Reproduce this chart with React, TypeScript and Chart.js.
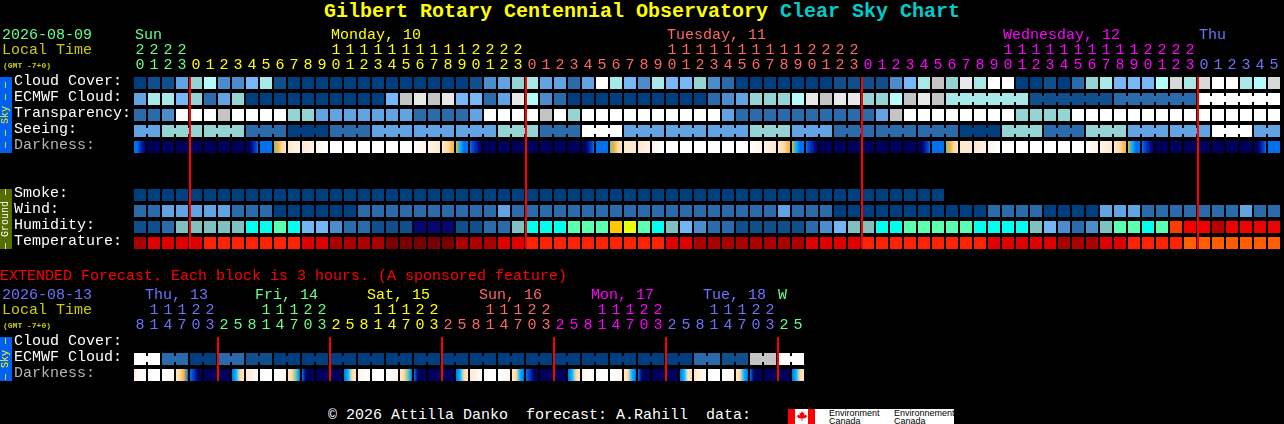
import React, { useEffect, useRef } from "react";
import { Chart, registerables } from "chart.js";

Chart.register(...registerables);

const MONO = "'Liberation Mono', 'DejaVu Sans Mono', monospace";

// Level palette: 0 = clear / best, 12 = overcast / worst
const skyColors = ["#003f7f", "#114e8c", "#2c6bab", "#4c8ccc", "#62a3e4", "#78b7f7", "#94d4d4", "#a8e8e8", "#b4fbfb", "#c4c4c4", "#d8d8d8", "#e8e8e8", "#ffffff"];
const humidityColors = ["#06066e", "#114e8c", "#2c6bab", "#4c8ccc", "#72b4f4", "#80c0c0", "#00ffee", "#5cffb0", "#e8ff10", "#ffc800", "#ff3c00", "#f00000", "#b80000"];
const temperatureColors = ["#7a0000", "#aa0000", "#e00000", "#ff2200", "#ff5e00"];
const darknessColors: Record<string, string> = {
  a: "#00005c", b: "#001090", c: "#0038c0", d: "#0070f0", e: "#00b8ff", f: "#60d0a0",
  g: "#f4b038", h: "#ffd8a0", i: "#ffe8cc", j: "#fff4e8", k: "#ffffff",
};

const mainHours = [20, 21, 22, 23, 0, 1, 2, 3, 4, 5, 6, 7, 8, 9, 10, 11, 12, 13, 14, 15, 16, 17, 18, 19, 20, 21, 22, 23, 0, 1, 2, 3, 4, 5, 6, 7, 8, 9, 10, 11, 12, 13, 14, 15, 16, 17, 18, 19, 20, 21, 22, 23, 0, 1, 2, 3, 4, 5, 6, 7, 8, 9, 10, 11, 12, 13, 14, 15, 16, 17, 18, 19, 20, 21, 22, 23, 0, 1, 2, 3, 4, 5];
const mainDayStarts = [0, 4, 28, 52, 76];
const mainDayColors = ["#66ff88", "#ffff00", "#ff6666", "#ff00ff", "#7070ff"];

const cloudCover = [0, 1, 1, 4, 6, 8, 3, 3, 5, 7, 1, 0, 0, 0, 0, 0, 0, 0, 0, 0, 0, 0, 0, 0, 1, 3, 4, 6, 7, 4, 4, 2, 4, 12, 7, 5, 3, 7, 5, 5, 6, 3, 2, 0, 0, 0, 0, 0, 0, 0, 1, 1, 1, 1, 3, 5, 7, 9, 6, 11, 7, 12, 12, 0, 0, 1, 0, 2, 6, 7, 5, 5, 5, 8, 10, 7, 10, 12, 12, 7, 8, 10];
const ecmwfCloud = [4, 7, 7, 5, 6, 2, 4, 6, 0, 0, 0, 0, 0, 0, 0, 0, 0, 0, 5, 9, 11, 9, 11, 5, 5, 2, 4, 11, 8, 3, 2, 0, 0, 0, 0, 0, 0, 0, 0, 0, 0, 2, 3, 4, 6, 6, 6, 8, 11, 9, 11, 11, 6, 6, 8, 9, 11, 9, 7, 7, 7, 7, 7, 7, 1, 1, 1, 1, 1, 1, 2, 2, 2, 2, 2, 2, 12, 12, 12, 12, 12, 12];
const ecmwfRuns = [1, 1, 1, 1, 1, 1, 1, 1, 1, 1, 1, 1, 1, 1, 1, 1, 1, 1, 1, 1, 1, 1, 1, 1, 1, 1, 1, 1, 1, 1, 1, 1, 1, 1, 1, 1, 1, 1, 1, 1, 1, 1, 1, 1, 1, 1, 1, 1, 1, 1, 1, 1, 1, 1, 1, 1, 1, 1, 6, 6, 6, 6];
const transparency = [2, 2, 3, 12, 12, 12, 9, 12, 12, 12, 12, 6, 6, 4, 4, 4, 4, 4, 4, 4, 2, 2, 2, 2, 4, 12, 12, 12, 12, 9, 12, 6, 12, 12, 12, 12, 12, 12, 12, 12, 12, 12, 4, 2, 2, 2, 2, 2, 2, 2, 2, 2, 2, 4, 9, 12, 12, 12, 12, 12, 12, 12, 12, 6, 6, 6, 6, 12, 12, 12, 12, 12, 12, 12, 12, 12, 12, 12, 12, 12, 12, 12];
const seeing = [4, 4, 6, 6, 6, 6, 6, 6, 2, 2, 2, 0, 0, 0, 2, 2, 2, 4, 4, 4, 4, 4, 4, 4, 4, 4, 6, 6, 6, 2, 2, 2, 12, 12, 12, 4, 4, 4, 4, 4, 4, 4, 4, 4, 6, 6, 6, 4, 4, 4, 2, 2, 2, 2, 2, 2, 2, 2, 2, 0, 0, 0, 6, 6, 6, 2, 2, 2, 6, 6, 6, 4, 4, 4, 4, 4, 4, 12, 12, 12, 4, 4];
const seeingRuns = [2, 3, 3, 3, 3, 3, 3, 3, 3, 3, 3, 3, 3, 3, 3, 3, 3, 3, 3, 3, 3, 3, 3, 3, 3, 3, 3, 2];
const darkness = [
  "ddcba", "a", "a", "a", "a", "a", "a", "a", "aabcd", "d", "fghi", "ij", "ij", "jk", "k", "k", "k", "k", "k", "k", "kj", "ji", "ihg", "gedd",
  "dcba", "a", "a", "a", "a", "a", "a", "a", "aabcd", "d", "fghi", "ii", "ij", "jk", "k", "k", "k", "k", "k", "k", "kj", "ji", "ihg", "gedd",
  "dcba", "a", "a", "a", "a", "a", "a", "a", "aabcd", "d", "fghi", "ii", "ij", "jk", "k", "k", "k", "k", "k", "k", "kj", "ji", "ihg", "gedd",
  "dcba", "a", "a", "a", "a", "a", "a", "a", "aabcd", "d",
];
const smoke = [0, 0, 0, 0, 0, 0, 0, 0, 0, 0, 0, 0, 0, 0, 0, 0, 0, 0, 0, 0, 0, 0, 0, 0, 0, 0, 0, 0, 0, 0, 0, 0, 0, 0, 0, 0, 0, 0, 0, 0, 0, 0, 0, 0, 0, 0, 0, 0, 0, 0, 0, 0, 0, 0, 0, 0, 0, 0];
const wind = [2, 2, 4, 4, 4, 4, 4, 2, 2, 2, 0, 0, 0, 0, 0, 0, 2, 2, 2, 2, 2, 2, 2, 2, 2, 2, 4, 2, 2, 2, 2, 2, 2, 2, 2, 2, 2, 2, 2, 2, 2, 2, 2, 2, 2, 2, 4, 2, 2, 2, 0, 0, 0, 0, 0, 0, 0, 0, 0, 0, 0, 2, 2, 2, 2, 0, 0, 0, 0, 4, 4, 4, 2, 2, 2, 2, 2, 2, 2, 4, 2, 2];
const humidity = [1, 1, 2, 5, 5, 5, 5, 5, 6, 6, 7, 6, 4, 4, 3, 2, 2, 1, 1, 1, 0, 0, 0, 1, 1, 2, 2, 5, 6, 6, 6, 7, 7, 7, 9, 8, 7, 6, 5, 4, 3, 2, 2, 1, 1, 1, 1, 1, 2, 3, 4, 5, 5, 6, 6, 7, 7, 7, 7, 7, 6, 6, 6, 6, 5, 4, 3, 2, 3, 5, 7, 7, 6, 7, 10, 11, 11, 12, 11, 11, 11, 11];
const temperature = [1, 2, 2, 2, 2, 3, 3, 3, 3, 3, 3, 3, 2, 2, 1, 1, 1, 1, 0, 0, 0, 0, 0, 1, 1, 1, 2, 2, 3, 3, 3, 3, 3, 3, 3, 3, 3, 3, 2, 2, 1, 1, 1, 1, 1, 1, 1, 1, 2, 2, 2, 2, 3, 3, 3, 3, 3, 3, 3, 3, 3, 2, 2, 2, 2, 2, 1, 1, 1, 2, 2, 3, 3, 3, 3, 4, 4, 4, 4, 4, 4, 4];

const mainRowNames = ["Cloud Cover:", "ECMWF Cloud:", "Transparency:", "Seeing:", "Darkness:", "Smoke:", "Wind:", "Humidity:", "Temperature:"];
const mainRowPositions = [0, 1, 2, 3, 4, 7, 8, 9, 10];
const mainMidnights = [4, 28, 52, 76];

const extHours = [8, 11, 14, 17, 20, 23, 2, 5, 8, 11, 14, 17, 20, 23, 2, 5, 8, 11, 14, 17, 20, 23, 2, 5, 8, 11, 14, 17, 20, 23, 2, 5, 8, 11, 14, 17, 20, 23, 2, 5, 8, 11, 14, 17, 20, 23, 2, 5];
const extDayStarts = [0, 6, 14, 22, 30, 38, 46];
const extDayColors = ["#7070ff", "#66ff88", "#ffff00", "#ff6666", "#ff00ff", "#7070ff", "#66ff88"];
const extEcmwf = [12, 12, 2, 2, 0, 0, 2, 2, 1, 1, 0, 0, 0, 0, 0, 0, 0, 0, 0, 0, 0, 0, 0, 0, 0, 0, 0, 0, 0, 0, 0, 0, 0, 0, 0, 0, 0, 0, 0, 0, 2, 2, 1, 1, 9, 9, 12, 12];
const extEcmwfRuns = [2, 2, 2, 2, 2, 2, 2, 2, 2, 2, 2, 2, 2, 2, 2, 2, 2, 2, 2, 2, 2, 2, 2, 2];
const extDarkness = [
  "jk", "k", "kj", "ihgd", "dcaa", "a", "a", "dehi",
  "ik", "k", "kj", "ihfd", "daaa", "a", "a", "dehi",
  "jk", "k", "kj", "ihfd", "daaa", "a", "a", "dehi",
  "ik", "k", "kj", "ihed", "dcaa", "a", "a", "dehi",
  "jk", "k", "kj", "ihed", "daaa", "a", "a", "deih",
  "ik", "k", "kj", "ihed", "daaa", "a", "a", "dehi",
];
const extRowNames = ["Cloud Cover:", "ECMWF Cloud:", "Darkness:"];
const extRowPositions = [0, 1, 2];
const extMidnights = [6, 14, 22, 30, 38, 46];

const CELL_PX = 14;
const HALF_ROW = 0.375;
const LABEL_SHIFT = -0.1;

function dayColorAt(starts: number[], colors: string[], col: number) {
  let c = colors[0];
  starts.forEach((s, i) => {
    if (col >= s) c = colors[i];
  });
  return c;
}

function base() {
  return { stack: "all", inflateAmount: 0, borderWidth: 0, borderSkipped: false };
}

function cellDataset(values: number[], row: number, palette: string[]) {
  return {
    ...base(),
    barThickness: 12,
    data: values.map((_, i) => ({ x: i, y: [row - HALF_ROW, row + HALF_ROW] })),
    backgroundColor: values.map((v) => palette[v]),
  };
}

function runLinks(values: number[], runs: number[], row: number, palette: string[]) {
  const data: any[] = [];
  const colors: string[] = [];
  let start = 0;
  runs.forEach((len) => {
    for (let i = start; i < start + len - 1; i++) {
      data.push({ x: i + 0.5, y: [row - 0.1875, row + 0.1875] });
      colors.push(palette[values[i]]);
    }
    start += len;
  });
  return { ...base(), barThickness: 2, data, backgroundColor: colors };
}

function darknessDataset(values: string[], row: number) {
  return {
    ...base(),
    barThickness: 12,
    data: values.map((_, i) => ({ x: i, y: [row - HALF_ROW, row + HALF_ROW] })),
    backgroundColor: (c: any) => {
      const key = values[c.dataIndex];
      if (key === undefined) return darknessColors.a;
      if (key.length === 1) return darknessColors[key];
      const px = c.chart.scales.x.getPixelForValue(c.dataIndex);
      if (!Number.isFinite(px)) return darknessColors[key[0]];
      const g = c.chart.ctx.createLinearGradient(px - 6, 0, px + 6, 0);
      key.split("").forEach((k, i) => g.addColorStop(i / (key.length - 1), darknessColors[k]));
      return g;
    },
  };
}

function redLines(midnights: number[], top: number, bottom: number) {
  return {
    ...base(),
    barThickness: 2,
    data: midnights.map((m) => ({ x: m - 6 / CELL_PX, y: [top, bottom] })),
    backgroundColor: "#ff0000",
  };
}

function makeChart(
  canvas: HTMLCanvasElement,
  datasets: any[],
  hours: number[],
  starts: number[],
  colors: string[],
  rowNames: string[],
  rowPositions: number[],
  yMin: number,
  yMax: number,
  headerHeight: number,
) {
  return new Chart(canvas, {
    type: "bar",
    data: { datasets },
    options: {
      responsive: false,
      animation: false,
      events: [],
      devicePixelRatio: 1,
      layout: { padding: { left: 14, right: 0, top: 0, bottom: 0 } },
      plugins: { legend: { display: false }, tooltip: { enabled: false }, title: { display: false } },
      scales: {
        x: {
          type: "linear",
          position: "top",
          offset: false,
          min: -6 / CELL_PX,
          max: (1284 - 140) / CELL_PX,
          grid: { display: false, drawTicks: false },
          border: { display: false },
          afterBuildTicks: (s: any) => {
            s.ticks = hours.map((_, i) => ({ value: i }));
          },
          afterFit: (s: any) => {
            s.height = headerHeight;
            s.paddingLeft = 0;
            s.paddingRight = 0;
          },
          ticks: {
            autoSkip: false,
            maxRotation: 0,
            minRotation: 0,
            padding: 4,
            font: { family: MONO, size: 15, lineHeight: 1 },
            color: (c: any) => dayColorAt(starts, colors, c.index),
            callback: (_v: any, i: number) => {
              const h = hours[i];
              return h >= 10 ? [String(Math.floor(h / 10)), String(h % 10)] : [" ", String(h)];
            },
          },
        },
        y: {
          type: "linear",
          reverse: true,
          stacked: false,
          offset: false,
          min: yMin,
          max: yMax,
          position: "left",
          grid: { display: false, drawTicks: false },
          border: { display: false },
          afterBuildTicks: (s: any) => {
            s.ticks = rowPositions.map((p) => ({ value: p + LABEL_SHIFT }));
          },
          afterFit: (s: any) => {
            s.width = 120;
            s.paddingTop = 0;
            s.paddingBottom = 0;
          },
          ticks: {
            autoSkip: false,
            crossAlign: "far",
            padding: 0,
            font: { family: MONO, size: 15, lineHeight: 1 },
            color: (c: any) => (rowNames[c.index] === "Darkness:" ? "#b4b4b4" : "#ffffff"),
            callback: (_v: any, i: number) => rowNames[i],
          },
        },
      },
    } as any,
  } as any);
}

const textBase: React.CSSProperties = {
  position: "absolute",
  fontFamily: MONO,
  fontSize: 15,
  lineHeight: "15px",
  whiteSpace: "pre",
  margin: 0,
};

function Label(props: { x: number; y: number; color: string; text: string; size?: number; bold?: boolean }) {
  return (
    <div
      style={{
        ...textBase,
        left: props.x,
        top: props.y,
        color: props.color,
        fontSize: props.size ?? 15,
        fontWeight: props.bold ? 700 : 400,
      }}
    >
      {props.text}
    </div>
  );
}

function SideBar(props: { top: number; height: number; bg: string; color: string; text: string }) {
  return (
    <div
      style={{
        position: "absolute",
        left: 0,
        top: props.top,
        width: 12,
        height: props.height,
        background: props.bg,
        color: props.color,
        display: "flex",
        alignItems: "center",
        justifyContent: "center",
        fontFamily: MONO,
        fontSize: 10,
        lineHeight: "12px",
        whiteSpace: "pre",
        writingMode: "vertical-rl",
        transform: "rotate(180deg)",
      }}
    >
      {props.text}
    </div>
  );
}

const mainDayLabels = [
  { x: 135, text: "Sun", col: 0 },
  { x: 331, text: "Monday, 10", col: 4 },
  { x: 667, text: "Tuesday, 11", col: 28 },
  { x: 1003, text: "Wednesday, 12", col: 52 },
  { x: 1199, text: "Thu", col: 76 },
];
const extDayLabels = [
  { x: 145, text: "Thu, 13", col: 0 },
  { x: 255, text: "Fri, 14", col: 6 },
  { x: 367, text: "Sat, 15", col: 14 },
  { x: 479, text: "Sun, 16", col: 22 },
  { x: 591, text: "Mon, 17", col: 30 },
  { x: 703, text: "Tue, 18", col: 38 },
  { x: 778, text: "W", col: 46 },
];

export default function App() {
  const mainRef = useRef<HTMLCanvasElement>(null);
  const extRef = useRef<HTMLCanvasElement>(null);

  useEffect(() => {
    document.body.style.margin = "0";
    document.body.style.background = "#000";
    const main = makeChart(
      mainRef.current!,
      [
        redLines(mainMidnights, -HALF_ROW, 10 + HALF_ROW),
        runLinks(seeing, seeingRuns, 3, skyColors),
        runLinks(ecmwfCloud, ecmwfRuns, 1, skyColors),
        cellDataset(cloudCover, 0, skyColors),
        cellDataset(ecmwfCloud, 1, skyColors),
        cellDataset(transparency, 2, skyColors),
        cellDataset(seeing, 3, skyColors),
        darknessDataset(darkness, 4),
        cellDataset(smoke, 7, skyColors),
        cellDataset(wind, 8, skyColors),
        cellDataset(humidity, 9, humidityColors),
        cellDataset(temperature, 10, temperatureColors),
      ],
      mainHours,
      mainDayStarts,
      mainDayColors,
      mainRowNames,
      mainRowPositions,
      -HALF_ROW,
      (256 - 83) / 16,
      77,
    );
    const ext = makeChart(
      extRef.current!,
      [
        redLines(extMidnights, -HALF_ROW, 2 + HALF_ROW),
        runLinks(extEcmwf, extEcmwfRuns, 1, skyColors),
        cellDataset(extEcmwf, 1, skyColors),
        darknessDataset(extDarkness, 2),
      ],
      extHours,
      extDayStarts,
      extDayColors,
      extRowNames,
      extRowPositions,
      -HALF_ROW,
      (396 - 343) / 16,
      81,
    );
    return () => {
      main.destroy();
      ext.destroy();
    };
  }, []);

  return (
    <div style={{ position: "absolute", left: 0, top: 0, width: 1284, height: 424, background: "#000", overflow: "hidden" }}>
      <div
        style={{
          position: "absolute",
          left: 0,
          top: 1,
          width: 1284,
          textAlign: "center",
          fontFamily: MONO,
          fontSize: 20,
          lineHeight: "22px",
          fontWeight: 700,
          whiteSpace: "pre",
          color: "#ffff00",
        }}
      >
        Gilbert Rotary Centennial Observatory <span style={{ color: "#00cccc" }}>Clear Sky Chart</span>
      </div>

      <canvas ref={mainRef} width={1284} height={256} style={{ position: "absolute", left: 0, top: 0, display: "block" }} />
      <canvas ref={extRef} width={1284} height={140} style={{ position: "absolute", left: 0, top: 256, display: "block" }} />

      <Label x={2} y={28} color="#66ff88" text="2026-08-09" />
      <Label x={2} y={43} color="#cccc00" text="Local Time" />
      <Label x={3} y={58} color="#cccc00" text="(GMT -7+0)" size={8} bold />
      {mainDayLabels.map((d) => (
        <Label key={d.text} x={d.x} y={28} color={dayColorAt(mainDayStarts, mainDayColors, d.col)} text={d.text} />
      ))}

      <SideBar top={77} height={76} bg="#0060f0" color="#ffff00" text="— — Sky — —" />
      <SideBar top={189} height={60} bg="#566e00" color="#ffffff" text="— Ground —" />

      <Label x={0} y={269} color="#ff0000" text="EXTENDED Forecast. Each block is 3 hours. (A sponsored feature)" />
      <Label x={2} y={288} color="#7070ff" text="2026-08-13" />
      <Label x={2} y={303} color="#cccc00" text="Local Time" />
      <Label x={3} y={318} color="#cccc00" text="(GMT -7+0)" size={8} bold />
      {extDayLabels.map((d) => (
        <Label key={d.text} x={d.x} y={288} color={dayColorAt(extDayStarts, extDayColors, d.col)} text={d.text} />
      ))}
      <SideBar top={337} height={44} bg="#0060f0" color="#ffff00" text="— Sky —" />

      <Label x={328} y={408} color="#ffffff" text="© 2026 Attilla Danko  forecast: A.Rahill  data:" />

      <div style={{ position: "absolute", left: 788, top: 409, width: 166, height: 15, background: "#fff", overflow: "hidden", color: "#000", fontFamily: "'Liberation Sans', sans-serif", fontSize: 9, lineHeight: "8px" }}>
        <div style={{ position: "absolute", left: 0, top: 0, width: 7, height: 15, background: "#ff0000" }} />
        <div style={{ position: "absolute", left: 20, top: 0, width: 7, height: 15, background: "#ff0000" }} />
        <svg width="10" height="11" viewBox="0 0 10 11" style={{ position: "absolute", left: 8.5, top: 2 }}>
          <polygon points="5,0 6.2,2.2 7.5,1.6 7,4.5 9,3.6 10,5.4 8.5,7 5.4,7.4 5.4,10 4.6,10 4.6,7.4 1.5,7 0,5.4 1,3.6 3,4.5 2.5,1.6 3.8,2.2" fill="#ff0000" />
        </svg>
        <div style={{ position: "absolute", left: 41, top: 0, whiteSpace: "pre" }}>{"Environment\nCanada"}</div>
        <div style={{ position: "absolute", left: 106, top: 0, whiteSpace: "pre" }}>{"Environnement\nCanada"}</div>
      </div>
    </div>
  );
}
